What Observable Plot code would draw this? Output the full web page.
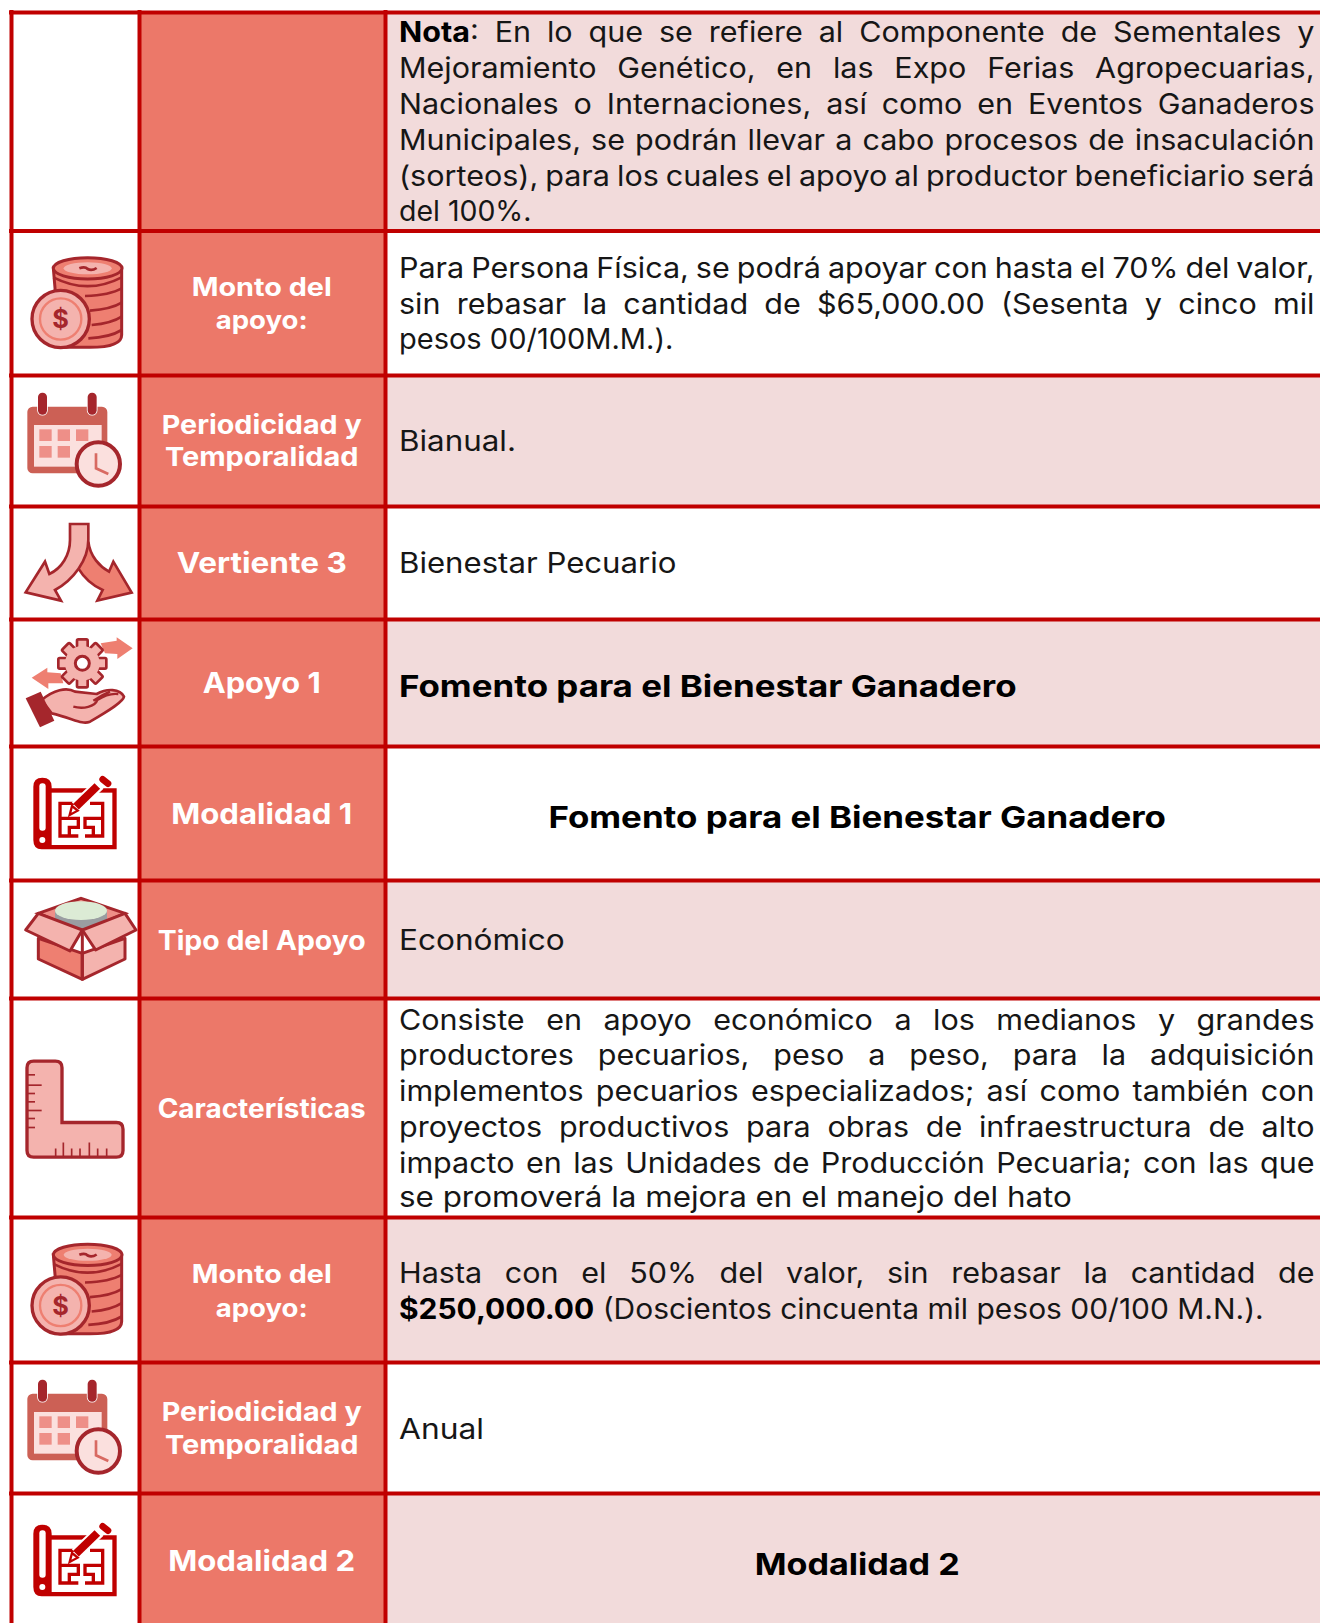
<!DOCTYPE html>
<html lang="es">
<head>
<meta charset="utf-8">
<title>Fomento para el Bienestar Ganadero</title>
<script src="https://cdn.jsdelivr.net/npm/d3@7"></script>
<script src="https://cdn.jsdelivr.net/npm/@observablehq/plot@0.6"></script>
<style>
  html, body { margin: 0; padding: 0; background: #fff; }
  svg { display: block; }
</style>
</head>
<body>
<script>
// ---------- content ----------
const headerLabels = ["Monto del", "apoyo:", "Periodicidad y", "Temporalidad", "Vertiente 3", "Apoyo 1", "Modalidad 1", "Tipo del Apoyo", "Características", "Monto del", "apoyo:", "Periodicidad y", "Temporalidad", "Modalidad 2"];
const bodyLines = [
  "Nota: En lo que se refiere al Componente de Sementales y",
  "Mejoramiento Genético, en las Expo Ferias Agropecuarias,",
  "Nacionales o Internaciones, así como en Eventos Ganaderos",
  "Municipales, se podrán llevar a cabo procesos de insaculación",
  "(sorteos), para los cuales el apoyo al productor beneficiario será",
  "del 100%.",
  "Para Persona Física, se podrá apoyar con hasta el 70% del valor,",
  "sin rebasar la cantidad de $65,000.00 (Sesenta y cinco mil",
  "pesos 00/100M.M.).",
  "Bianual.",
  "Bienestar Pecuario",
  "Económico",
  "Consiste en apoyo económico a los medianos y grandes",
  "productores pecuarios, peso a peso, para la adquisición",
  "implementos pecuarios especializados; así como también con",
  "proyectos productivos para obras de infraestructura de alto",
  "impacto en las Unidades de Producción Pecuaria; con las que",
  "se promoverá la mejora en el manejo del hato",
  "Hasta con el 50% del valor, sin rebasar la cantidad de",
  "$250,000.00 (Doscientos cincuenta mil pesos 00/100 M.N.).",
  "Anual"
];
const leftBoldLines = ["Fomento para el Bienestar Ganadero"];
const centerBoldLines = ["Fomento para el Bienestar Ganadero", "Modalidad 2"];
const boldPrefixes = ["Nota", "$250,000.00"];
const justifiedLines = bodyLines.filter((_, i) => [0,1,2,3,4,6,7,12,13,14,15,16,18].includes(i));

// ---------- layout, in the picture's own units ----------
const rowEdges = [12, 230.5, 375, 506, 619, 746, 880, 998, 1217, 1362, 1493, 1623];
const columnEdges = [11, 139, 385, 1320];
const headerBaselines = [295, 328.3, 433.3, 465, 572.3, 692.3, 823.3, 949, 1117, 1282, 1316, 1420, 1453, 1570];
const headerSizes = [25, 25, 26, 26, 28.5, 28.5, 29, 26.5, 26.5, 25, 25, 26, 26, 29];
const bodyBaselines = [41.7, 77.7, 113.7, 149.7, 185.7, 220.3, 277.7, 313.7, 348.3, 450, 572.5, 949.5, 1029, 1064.5, 1100.5, 1136.5, 1172, 1206.6, 1282.5, 1318, 1438];
const leftBoldBaselines = [696.5];
const centerBoldBaselines = [827, 1574.5];
const fittedWidths = {
  "del 100%.": 132.5, "pesos 00/100M.M.).": 274.4, "Bianual.": 117, "Bienestar Pecuario": 277.5,
  "Fomento para el Bienestar Ganadero": 617.5, "Económico": 165.6,
  "se promoverá la mejora en el manejo del hato": 673,
  "$250,000.00 (Doscientos cincuenta mil pesos 00/100 M.N.).": 864.5, "Anual": 85, "Modalidad 2": 205
};
const headerWidths = {
  "Monto del": 140, "apoyo:": 92, "Periodicidad y": 200, "Temporalidad": 193.6, "Vertiente 3": 170,
  "Apoyo 1": 118, "Modalidad 1": 181, "Tipo del Apoyo": 208, "Características": 208, "Modalidad 2": 187
};

const RED = "#C00000", SALMON = "#EC7869", PINK = "#F2DBDB";
const DARK = "#A5262C", MID = "#EE7F71", LIGHT = "#F4B3AE", BLUSH = "#FBE0DE", FONT = "Inter, 'Open Sans', sans-serif";
const bodyLeft = 398.5, bodyRight = 1314, headerCenter = 261.2, bodyCenter = 856.7;

// ---------- icon glyphs (drawn at 3 units per pixel) ----------
const coins = `
  <path d="M130 85H335V285Q335 322 240 322H150Z" fill="${MID}" stroke="${DARK}" stroke-width="9"/>
  <path d="M130 112Q233 165 335 112M225 168Q300 165 335 145M240 212Q305 207 335 188M245 255Q305 250 335 230M235 295Q300 292 335 270" fill="none" stroke="${DARK}" stroke-width="8"/>
  <ellipse cx="233" cy="85" rx="103" ry="32" fill="${MID}" stroke="${DARK}" stroke-width="9"/>
  <ellipse cx="233" cy="85" rx="72" ry="18" fill="${LIGHT}"/>
  <path d="M208 85Q225 78 233 87Q245 94 260 84" fill="none" stroke="${DARK}" stroke-width="8"/>
  <circle cx="152" cy="237" r="86" fill="${LIGHT}" stroke="${DARK}" stroke-width="10"/>
  <circle cx="152" cy="237" r="62" fill="none" stroke="${MID}" stroke-width="7"/>
  <text x="152" y="264" text-anchor="middle" font-family="Inter" font-weight="700" font-size="76" fill="${DARK}">$</text>`;
const calendar = `
  <rect x="52" y="500" width="240" height="200" rx="16" fill="#CC6055"/>
  <rect x="72" y="555" width="203" height="125" fill="${BLUSH}"/>
  ${[[88,568],[143,568],[198,568],[88,618],[143,618]].map(([x, y]) => `<rect x="${x}" y="${y}" width="37" height="35" fill="#EE8F88"/>`).join("")}
  ${[84, 233].map(x => `<rect x="${x}" y="458" width="27" height="66" rx="13" fill="${DARK}" stroke="#fff" stroke-width="5" paint-order="stroke"/>`).join("")}
  <circle cx="265" cy="672" r="65" fill="${BLUSH}" stroke="${DARK}" stroke-width="12"/>
  <path d="M258 640V685L295 702" fill="none" stroke="#D86A62" stroke-width="8"/>`;
const arrows = `
  <path d="M235 95C240 140 270 170 297 185L310 155L365 248L262 272L278 240C245 225 220 200 205 175Z" fill="${MID}" stroke="${DARK}" stroke-width="8" stroke-linejoin="miter"/>
  <path d="M180 42H235V90C235 150 190 210 135 240L153 272L47 247L105 155L118 192C155 175 180 135 180 90Z" fill="${LIGHT}" stroke="${DARK}" stroke-width="8"/>`;
const gearTeeth = d3.range(8).map(i => `<rect x="201" y="388" width="32" height="40" rx="4" transform="rotate(${i * 45} 217 460)" fill="${LIGHT}" stroke="${DARK}" stroke-width="8"/>`).join("");
const hand = `
  <path d="M272 400L320 392V382L368 415L322 447V432L285 430Z" fill="${MID}"/>
  <path d="M65 503L112 473V487L152 490L160 520L115 520V537Z" fill="${MID}"/>
  ${gearTeeth}
  <circle cx="217" cy="460" r="52" fill="${LIGHT}"/>
  <circle cx="217" cy="460" r="21" fill="#fff" stroke="${DARK}" stroke-width="9"/>
  <path d="M95 570C130 540 170 530 195 545L260 552C290 535 330 535 342 560C340 575 300 600 240 635C215 645 190 625 125 610Z" fill="${LIGHT}" stroke="${DARK}" stroke-width="8" stroke-linejoin="round"/>
  <path d="M190 590C220 598 255 590 262 570C285 555 310 550 325 552M250 572Q275 555 300 545" fill="none" stroke="${DARK}" stroke-width="7"/>
  <path d="M47 565L92 545L133 632L90 652Z" fill="${DARK}"/>`;
const blueprint = `
  <path d="M125 115H320V298H95Q70 298 70 270V110Q70 83 97 83Q125 83 125 110Z" fill="${RED}"/>
  <rect x="125" y="128" width="182" height="157" fill="#fff"/>
  <rect x="88" y="100" width="19" height="142" rx="9" fill="#fff"/>
  <circle cx="97" cy="270" r="9" fill="#fff"/>
  <path d="M195 160H150V258H205M150 205H205V232H178V258M225 258H278V160H240M278 205H225V232H250V258" fill="none" stroke="${RED}" stroke-width="10"/>
  <path d="M198 170L268 103" stroke="#fff" stroke-width="36"/>
  <path d="M198 170L262 108" stroke="${RED}" stroke-width="24"/>
  <path d="M186 168L203 182L179 195Z" fill="#fff" stroke="${RED}" stroke-width="7"/>
  <path d="M278 88L294 101" stroke="${RED}" stroke-width="20" stroke-linecap="round"/>`;
const box = `
  <path d="M85 490L213 445L345 490L217 545Z" fill="#EE8F88" stroke="${DARK}" stroke-width="9"/>
  <rect x="135" y="478" width="156" height="60" fill="#9A9DA1"/>
  <ellipse cx="213" cy="482" rx="78" ry="28" fill="#DCEBD5"/>
  <path d="M85 565L217 610V688L85 627Z" fill="${MID}" stroke="${DARK}" stroke-width="9" stroke-linejoin="round"/>
  <path d="M345 565L217 610V688L345 627Z" fill="${LIGHT}" stroke="${DARK}" stroke-width="9" stroke-linejoin="round"/>
  <path d="M217 540V688" stroke="${DARK}" stroke-width="9"/>
  <path d="M47 540L85 490L217 540L180 603Z" fill="${LIGHT}" stroke="${DARK}" stroke-width="9" stroke-linejoin="round"/>
  <path d="M217 540L345 490L378 540L257 600Z" fill="${LIGHT}" stroke="${DARK}" stroke-width="9" stroke-linejoin="round"/>`;
const rulerLeftTicks = [[226,75],[257,95],[282,75],[307,75],[333,95],[357,75],[384,75]];
const rulerBottomTicks = [[137,447],[160,429],[185,447],[210,447],[238,429],[263,447],[290,447]];
const ruler = `
  <path d="M51 205Q51 185 71 185H136Q156 185 156 205V369H319Q339 369 339 389V453Q339 473 319 473H71Q51 473 51 453Z" fill="${LIGHT}" stroke="${DARK}" stroke-width="10"/>
  ${rulerLeftTicks.map(([y, x]) => `<path d="M51 ${y}H${x}" stroke="${DARK}" stroke-width="5"/>`).join("")}
  ${rulerBottomTicks.map(([x, y]) => `<path d="M${x} 473V${y}" stroke="${DARK}" stroke-width="5"/>`).join("")}`;
// one icon per row; dy = top of the icon's drawing frame, relative to the row's top edge
const rowIcons = [null, [coins, 9.5], [calendar, -135], [arrows, 4], [hand, -109], [blueprint, 4], [box, -130], [ruler, 1.5], [coins, 9.5], [calendar, -135], [blueprint, 4]];

function iconMark(index, scales) {
  const g = document.createElementNS("http://www.w3.org/2000/svg", "g");
  g.setAttribute("aria-label", "iconos");
  g.innerHTML = rowIcons.map((icon, i) => icon == null ? "" :
    `<g transform="translate(${scales.x(10)},${scales.y(rowEdges[i] + icon[1])}) scale(${1 / 3})">${icon[0]}</g>`).join("");
  return g;
}

// ---------- tables for the marks ----------
const rows = rowEdges.slice(0, -1).map((top, i) => ({top, bottom: rowEdges[i + 1], shaded: i % 2 === 0}));
const headerTable = headerLabels.map((text, i) => ({text, y: headerBaselines[i], size: headerSizes[i]}));
const bodyTable = bodyLines.map((text, i) => ({text, y: bodyBaselines[i]}));
const leftBoldTable = leftBoldLines.map((text, i) => ({text, y: leftBoldBaselines[i]}));
const centerBoldTable = centerBoldLines.map((text, i) => ({text, y: centerBoldBaselines[i]}));

const chart = Plot.plot({
  width: 1320, height: 1623,
  margin: 0,
  x: {type: "linear", domain: [0, 1320], range: [0, 1320], axis: null},
  y: {type: "linear", domain: [0, 1623], range: [0, 1623], axis: null},
  style: {background: "#fff", fontFamily: FONT},
  marks: [
    Plot.rect(rows, {x1: columnEdges[1], x2: columnEdges[2], y1: "top", y2: "bottom", fill: SALMON}),
    Plot.rect(rows.filter(d => d.shaded), {x1: columnEdges[2], x2: columnEdges[3], y1: "top", y2: "bottom", fill: PINK}),
    Plot.ruleX(columnEdges.slice(0, 3), {y1: rowEdges[0] - 2, y2: 1623, stroke: RED, strokeWidth: 4}),
    Plot.ruleY(rowEdges.slice(0, -1), {x1: columnEdges[0] - 2, x2: 1320, stroke: RED, strokeWidth: 4}),
    iconMark,
    Plot.text(headerTable, {x: headerCenter, y: "y", text: "text", fontSize: d => d.size, fontWeight: 700, fontFamily: FONT, fill: "#fff", textAnchor: "middle", lineAnchor: "bottom"}),
    Plot.text(bodyTable, {x: bodyLeft, y: "y", text: "text", fontSize: 28, fontWeight: 400, fontFamily: FONT, fill: "#161616", textAnchor: "start", lineAnchor: "bottom"}),
    Plot.text(leftBoldTable, {x: bodyLeft, y: "y", text: "text", fontSize: 30, fontWeight: 700, fontFamily: FONT, fill: "#000", textAnchor: "start", lineAnchor: "bottom"}),
    Plot.text(centerBoldTable, {x: bodyCenter, y: "y", text: "text", fontSize: 30, fontWeight: 700, fontFamily: FONT, fill: "#000", textAnchor: "middle", lineAnchor: "bottom"})
  ]
});
document.body.appendChild(chart);

// ---------- typographic fitting: the reference's justified lines and its wider typeface ----------
// Text is widened horizontally (Montserrat is wider than any installed face), not tracked.
function fitText() {
  const justified = new Set(justifiedLines);
  const bodyStretch = 1.09;
  chart.querySelectorAll("text").forEach(t => {
    const s = t.textContent;
    if (!s || s === "$") return;
    if (t.dataset.baseTransform === undefined) t.dataset.baseTransform = t.getAttribute("transform") || "";
    const base = t.dataset.baseTransform;
    const prefix = boldPrefixes.find(p => s.startsWith(p));
    if (prefix && bodyLines.includes(s)) {
      t.textContent = "";
      const b = document.createElementNS("http://www.w3.org/2000/svg", "tspan");
      b.setAttribute("font-weight", "700");
      b.setAttribute("fill", "#000");
      b.textContent = prefix;
      t.appendChild(b);
      t.appendChild(document.createTextNode(s.slice(prefix.length)));
    }
    t.style.wordSpacing = "0px";
    const natural = t.getComputedTextLength();
    if (justified.has(s)) {
      t.style.wordSpacing = (((bodyRight - bodyLeft) / bodyStretch - natural) / (s.split(" ").length - 1)) + "px";
      t.setAttribute("transform", `${base} scale(${bodyStretch},1)`);
    } else {
      const isHeader = t.parentNode.getAttribute("fill") === "#fff" || t.getAttribute("fill") === "#fff";
      const target = isHeader ? headerWidths[s] : fittedWidths[s];
      if (target) t.setAttribute("transform", `${base} scale(${target / natural},1)`);
    }
  });
}
fitText();
if (document.fonts && document.fonts.ready) document.fonts.ready.then(fitText);
</script>
</body>
</html>
